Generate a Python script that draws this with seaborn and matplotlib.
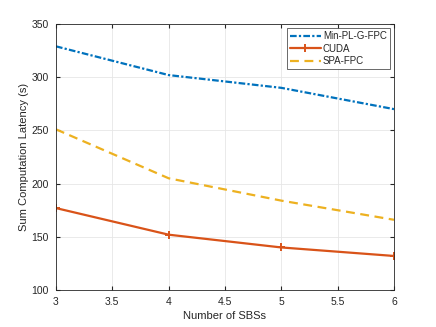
import pandas as pd
import matplotlib
matplotlib.use("Agg")
import matplotlib.pyplot as plt
import seaborn as sns

# data
sbs = [3, 4, 5, 6]
min_pl_g_fpc = [329, 302, 290, 270]
cuda = [177, 152, 140, 132]
spa_fpc = [251, 205, 184, 166]

series = ["Min-PL-G-FPC", "CUDA", "SPA-FPC"]
colors = ["#0072BD", "#D95319", "#EDB120"]

df = pd.DataFrame({
    "sbs": sbs * 3,
    "latency": min_pl_g_fpc + cuda + spa_fpc,
    "method": [s for s in series for _ in sbs],
})

sns.set_style("white")
plt.rcParams["font.family"] = ["Liberation Sans", "DejaVu Sans"]

fig = plt.figure(figsize=(4.36, 3.27), dpi=100)
ax = fig.add_axes([0.1284, 0.1131, 0.7753, 0.8135])

sns.lineplot(data=df, x="sbs", y="latency", hue="method", style="method",
             palette=dict(zip(series, colors)),
             dashes={"Min-PL-G-FPC": (3, 1, 1, 1), "CUDA": "", "SPA-FPC": (4, 2.5)},
             markers={"Min-PL-G-FPC": "", "CUDA": "+", "SPA-FPC": ""},
             markersize=6, markeredgewidth=1.4, linewidth=1.6, ax=ax)

# seaborn paints marker edges white; use line colour instead
for ln in ax.get_lines():
    ln.set_markeredgecolor(ln.get_color())

ax.set_xlim(3, 6)
ax.set_ylim(100, 350)
ax.set_xticks([3, 3.5, 4, 4.5, 5, 5.5, 6])
ax.set_xticklabels(["3", "3.5", "4", "4.5", "5", "5.5", "6"])
ax.set_yticks(range(100, 351, 50))
ax.grid(True, color="#e6e6e6", linewidth=0.6)
ax.tick_params(direction="in", length=3, labelsize=7.5, colors="#262626",
               top=True, right=True, bottom=True, left=True, pad=5)
for s in ax.spines.values():
    s.set_color("#262626")
    s.set_linewidth(0.6)

ax.set_xlabel("Number of SBSs", fontsize=8, color="#262626", labelpad=3)
ax.set_ylabel("Sum Computation Latency (s)", fontsize=8, color="#262626", labelpad=2)

leg = ax.legend(loc="upper right", fontsize=7, frameon=True, fancybox=False,
                edgecolor="#262626", handlelength=3.2, borderaxespad=0.45,
                labelspacing=0.25, handletextpad=0.2, borderpad=0.3)
leg.get_frame().set_linewidth(0.6)
for ln in leg.get_lines():
    ln.set_markeredgecolor(ln.get_color())

fig.savefig("out.png", dpi=100)
